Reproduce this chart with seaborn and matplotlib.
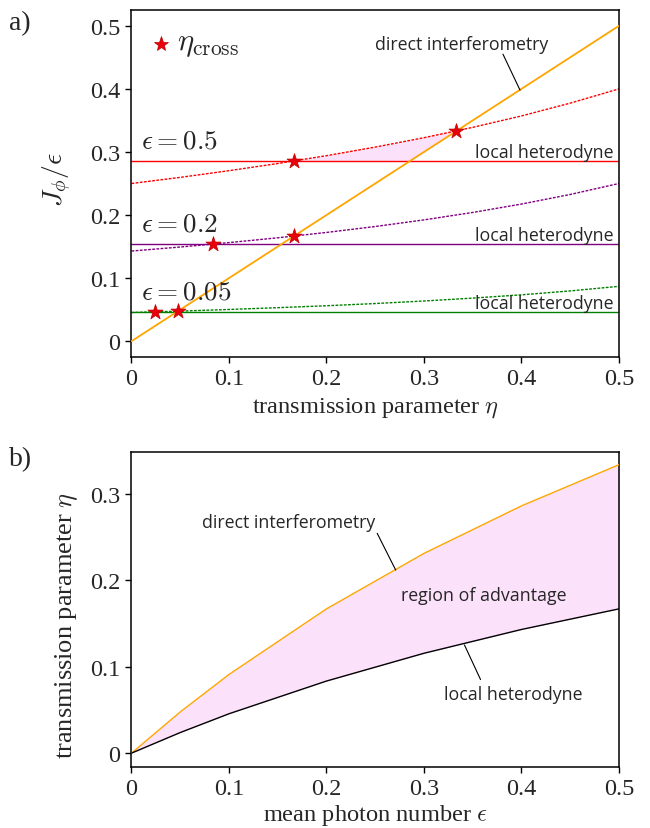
import numpy as np
import pandas as pd
import matplotlib
matplotlib.use("Agg")
import matplotlib.pyplot as plt
import seaborn as sns

# ---------------- data (panel a) ----------------
eta_grid = [0.0, 0.05, 0.10, 0.15, 0.20, 0.25, 0.30, 0.35, 0.40, 0.45, 0.50]
direct_eps05 = [0.2500, 0.2597, 0.2703, 0.2817, 0.2941, 0.3077, 0.3226, 0.3390, 0.3571, 0.3774, 0.4000]
direct_eps02 = [0.1429, 0.1493, 0.1563, 0.1639, 0.1724, 0.1818, 0.1923, 0.2041, 0.2174, 0.2326, 0.2500]
direct_eps005 = [0.0455, 0.0477, 0.0503, 0.0531, 0.0562, 0.0597, 0.0637, 0.0683, 0.0735, 0.0797, 0.0870]
hetero_levels = [0.2857, 0.1538, 0.0465]
eps_labels = [r"$\epsilon = 0.5$", r"$\epsilon = 0.2$", r"$\epsilon = 0.05$"]
direct_line = [0.0, 0.5]          # J/eps = eta (orange)
star_eta = [0.1667, 0.3333, 0.0833, 0.1667, 0.0238, 0.0476]
star_J = [0.2857, 0.3333, 0.1538, 0.1667, 0.0465, 0.0476]

# ---------------- data (panel b) ----------------
eps_grid = [0.0, 0.05, 0.10, 0.20, 0.30, 0.40, 0.50]
eta_direct = [0.0, 0.0476, 0.0909, 0.1667, 0.2308, 0.2857, 0.3333]
eta_hetero = [0.0, 0.0238, 0.0455, 0.0833, 0.1154, 0.1429, 0.1667]

xticks = [0, 0.1, 0.2, 0.3, 0.4, 0.5]
xticklabels = ["0", "0.1", "0.2", "0.3", "0.4", "0.5"]
yticks_a = [0, 0.1, 0.2, 0.3, 0.4, 0.5]
yticklabels_a = ["0", "0.1", "0.2", "0.3", "0.4", "0.5"]
yticks_b = [0, 0.1, 0.2, 0.3]
yticklabels_b = ["0", "0.1", "0.2", "0.3"]

sns.set_theme(style="ticks")
plt.rcParams["font.family"] = ["Liberation Serif", "DejaVu Serif"]
plt.rcParams["mathtext.fontset"] = "cm"
plt.rcParams["axes.linewidth"] = 1.1
plt.rcParams["axes.edgecolor"] = "black"

SANS = ["Open Sans", "DejaVu Sans"]
ORANGE = "#FFA500"
PINK = "#FCE1FB"
TICK_FS = 17.5
LAB_FS = 17.6
ANN_FS = 12.8
MATH_FS = 19.5

fig = plt.figure(figsize=(6.5, 8.29), dpi=100)
axA = fig.add_axes([0.2023, 0.5682, 0.7500, 0.4185])
axB = fig.add_axes([0.2023, 0.0736, 0.7500, 0.3800])

# ---------------- panel a ----------------
df_a = pd.DataFrame({"eta": eta_grid, "e05": direct_eps05, "e02": direct_eps02, "e005": direct_eps005})
colors = ["red", "purple", "green"]
cols = ["e05", "e02", "e005"]

# pink region
eta_lo, eta_hi = star_eta[0], star_eta[1]
xs = np.linspace(eta_lo, eta_hi, 200)
upper = np.interp(xs, eta_grid, direct_eps05)
lower = np.maximum(hetero_levels[0], xs)
axA.fill_between(xs, lower, upper, color=PINK, lw=0, zorder=1)

for c, col, lev in zip(colors, cols, hetero_levels):
    sns.lineplot(data=df_a, x="eta", y=col, ax=axA, color=c, lw=1.0,
                 linestyle=(0, (2, 1)), zorder=2)
    axA.axhline(lev, color=c, lw=1.0, zorder=2)

sns.lineplot(x=direct_line, y=direct_line, ax=axA, color=ORANGE, lw=1.3, zorder=3)
sns.scatterplot(x=star_eta, y=star_J, ax=axA, marker="*", s=130, color="#E8000B",
                edgecolor="#C00000", linewidth=0.5, zorder=5)

axA.set_xlim(0, 0.5)
axA.set_ylim(-0.025, 0.525)
axA.set_xticks(xticks)
axA.set_xticklabels(xticklabels)
axA.set_yticks(yticks_a)
axA.set_yticklabels(yticklabels_a)
axA.set_xlabel(r"transmission parameter $\eta$", fontsize=LAB_FS)
axA.set_ylabel(r"$J_\phi/\epsilon$", fontsize=20)
axA.xaxis.set_label_coords(0.5, -0.11)
axA.yaxis.set_label_coords(-0.118, 0.515)

# legend-like entry
axA.plot([0.030], [0.4715], marker="*", ms=11, color="#E8000B", mec="#C00000", mew=0.5, ls="none")
axA.text(0.047, 0.4715, r"$\eta_{\mathrm{cross}}$", fontsize=22, va="center", ha="left")

# epsilon labels
for lev, lab in zip(hetero_levels, eps_labels):
    axA.text(0.010, lev + 0.012, lab, fontsize=MATH_FS, ha="left", va="bottom")

# local heterodyne labels
for lev in hetero_levels:
    axA.text(0.494, lev + 0.006, "local heterodyne", fontsize=ANN_FS, ha="right",
             va="baseline", family=SANS)

axA.text(0.339, 0.4714, "direct interferometry", fontsize=ANN_FS, family=SANS,
         ha="center", va="center")
axA.annotate("", xy=(0.3985, 0.398), xytext=(0.381, 0.455),
             arrowprops=dict(arrowstyle="-", color="black", lw=0.8,
                             shrinkA=0, shrinkB=0))

# ---------------- panel b ----------------
df_b = pd.DataFrame({"eps": eps_grid, "direct": eta_direct, "hetero": eta_hetero})
axB.fill_between(eps_grid, eta_hetero, eta_direct, color=PINK, lw=0, zorder=1)
sns.lineplot(data=df_b, x="eps", y="direct", ax=axB, color=ORANGE, lw=1.0, zorder=3)
sns.lineplot(data=df_b, x="eps", y="hetero", ax=axB, color="black", lw=1.0, zorder=3)

axB.set_xlim(0, 0.5)
axB.set_ylim(-0.016, 0.348)
axB.set_xticks(xticks)
axB.set_xticklabels(xticklabels)
axB.set_yticks(yticks_b)
axB.set_yticklabels(yticklabels_b)
axB.set_xlabel(r"mean photon number $\epsilon$", fontsize=LAB_FS)
axB.set_ylabel(r"transmission parameter $\eta$", fontsize=19)
axB.xaxis.set_label_coords(0.5, -0.111)
axB.yaxis.set_label_coords(-0.105, 0.454)

axB.text(0.161, 0.267, "direct interferometry", fontsize=ANN_FS, family=SANS,
         ha="center", va="center")
axB.annotate("", xy=(0.271, 0.2115), xytext=(0.252, 0.254),
             arrowprops=dict(arrowstyle="-", color="black", lw=0.8,
                             shrinkA=0, shrinkB=0))
axB.text(0.361, 0.183, "region of advantage", fontsize=ANN_FS, family=SANS,
         ha="center", va="center")
axB.text(0.392, 0.068, "local heterodyne", fontsize=ANN_FS, family=SANS,
         ha="center", va="center")
axB.annotate("", xy=(0.3415, 0.125), xytext=(0.358, 0.085),
             arrowprops=dict(arrowstyle="-", color="black", lw=0.8,
                             shrinkA=0, shrinkB=0))

for ax in (axA, axB):
    ax.tick_params(axis="both", labelsize=TICK_FS, direction="out", length=4.5,
                   width=1.0, color="black", top=False, right=False)
    for s in ax.spines.values():
        s.set_visible(True)
        s.set_color("black")

fig.text(0.014, 0.972, "a)", fontsize=20, ha="left", va="center")
fig.text(0.014, 0.445, "b)", fontsize=20, ha="left", va="center")

fig.savefig("out.png", dpi=100)
